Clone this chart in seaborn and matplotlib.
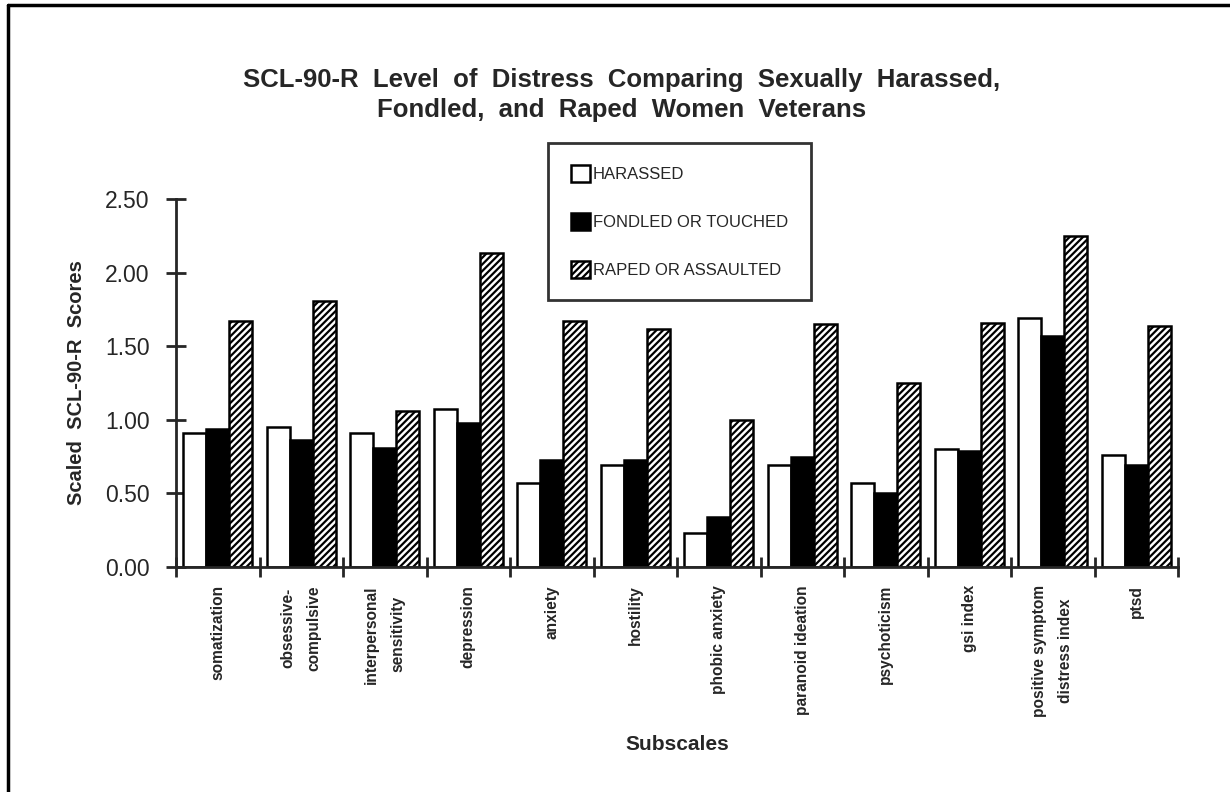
import numpy as np
import pandas as pd
import seaborn as sns
import matplotlib.pyplot as plt
from matplotlib.lines import Line2D

subscales = ['somatization', 'obsessive-\ncompulsive', 'interpersonal\nsensitivity',
             'depression', 'anxiety', 'hostility', 'phobic anxiety', 'paranoid ideation',
             'psychoticism', 'gsi index', 'positive symptom\ndistress index', 'ptsd']
groups = ['HARASSED', 'FONDLED OR TOUCHED', 'RAPED OR ASSAULTED']
harassed = [0.91, 0.95, 0.91, 1.07, 0.57, 0.69, 0.23, 0.69, 0.57, 0.80, 1.69, 0.76]
fondled = [0.94, 0.86, 0.81, 0.98, 0.73, 0.73, 0.34, 0.75, 0.50, 0.79, 1.57, 0.69]
raped = [1.67, 1.81, 1.06, 2.13, 1.67, 1.62, 1.00, 1.65, 1.25, 1.66, 2.25, 1.64]
y_ticks = [0.0, 0.5, 1.0, 1.5, 2.0, 2.5]


def build_frame():
    """ Long form table for seaborn. """
    frames = []
    for name, vals in zip(groups, [harassed, fondled, raped]):
        frames.append(pd.DataFrame({'subscale': subscales, 'group': name, 'score': vals}))
    return pd.concat(frames, ignore_index=True)


def main():
    sns.set_style('ticks')
    plt.rcParams['font.family'] = ['Liberation Sans', 'DejaVu Sans']
    plt.rcParams['hatch.linewidth'] = 1.6

    df = build_frame()
    fig = plt.figure(figsize=(12.3, 7.92), dpi=100)
    ax = fig.add_axes([176 / 1230, 1 - 567 / 792, 1002 / 1230, 368 / 792])

    palette = {groups[0]: 'white', groups[1]: 'black', groups[2]: 'white'}
    sns.barplot(data=df, x='subscale', y='score', hue='group', palette=palette,
                saturation=1, width=0.83, gap=0, edgecolor='black', linewidth=1.8,
                legend=False, ax=ax)
    for p in ax.containers[2].patches:
        p.set_hatch('/////')

    ax.set_xlim(-0.5, len(subscales) - 0.5)
    ax.set_ylim(0, 2.5)
    ax.set_yticks(y_ticks)
    ax.set_yticklabels([f'{v:.2f}' for v in y_ticks], fontsize=16.5)
    ax.tick_params(axis='y', direction='inout', length=14, width=2, pad=12)
    ax.set_xticks(range(len(subscales)))
    ax.set_xticklabels(subscales, rotation=90, fontsize=11.2, fontweight='bold',
                       va='top', ha='center', multialignment='center', linespacing=1.9)
    ax.tick_params(axis='x', which='major', length=0, pad=13)
    ax.set_xticks(np.arange(-0.5, len(subscales)), minor=True)
    ax.tick_params(axis='x', which='minor', direction='inout', length=14, width=2)
    sns.despine(ax=ax)
    for s in ['left', 'bottom']:
        ax.spines[s].set_linewidth(2)

    ax.set_ylabel('Scaled  SCL-90-R  Scores', fontsize=14.5, fontweight='bold', labelpad=14)
    ax.set_xlabel('')
    fig.text(677 / 1230, 1 - 745 / 792, 'Subscales', fontsize=15, fontweight='bold',
             ha='center', va='center')
    fig.text(0.505, 1 - 68 / 792,
             'SCL-90-R  Level  of  Distress  Comparing  Sexually  Harassed,\n'
             'Fondled,  and  Raped  Women  Veterans',
             fontsize=18.5, fontweight='bold', ha='center', va='top', linespacing=1.3)

    handles = [c.patches[0] for c in ax.containers]
    leg = fig.legend(handles, groups, loc='upper left',
                     bbox_to_anchor=(548 / 1230, 1 - 143 / 792), fontsize=12,
                     frameon=True, fancybox=False, edgecolor='black', borderpad=1.35,
                     labelspacing=1.85, handlelength=1.15, handleheight=1.15,
                     handletextpad=0.2, borderaxespad=0)
    leg.get_frame().set_linewidth(2)

    # outer scan frame, top and left only
    fig.add_artist(Line2D([8 / 1230, 1], [1 - 5 / 792, 1 - 5 / 792], color='black', lw=2.5))
    fig.add_artist(Line2D([8 / 1230, 8 / 1230], [0, 1 - 5 / 792], color='black', lw=2.5))

    fig.savefig('out.png', dpi=100)


if __name__ == "__main__":
    main()
